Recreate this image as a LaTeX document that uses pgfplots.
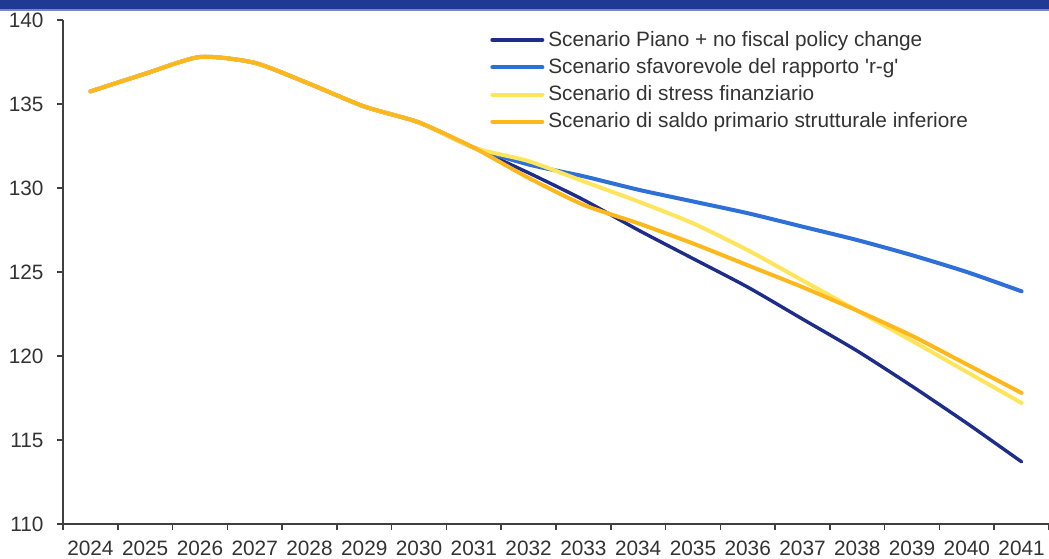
\documentclass[border=0pt]{standalone}
\usepackage{pgfplots}
\pgfplotsset{compat=1.18}
\usepackage{fontspec}
\setmainfont{Liberation Sans}
\definecolor{piano}{HTML}{1F2D8A}
\definecolor{rg}{HTML}{2F6FD8}
\definecolor{stress}{HTML}{FFE55C}
\definecolor{saldo}{HTML}{FFB81C}
\definecolor{band}{HTML}{1F3A93}
\begin{document}
\begin{tikzpicture}
\useasboundingbox (0pt,0pt) rectangle (524.5pt,279pt);
\fill[band] (0pt,274pt) rectangle (524.5pt,279pt);
\draw[band!60, line width=0.6pt] (0pt,274pt) -- (524.5pt,274pt);
\begin{axis}[
    at={(31.5pt,17pt)}, anchor=south west,
    width=493pt, height=252pt, scale only axis,
    xmin=-0.5, xmax=17.5, ymin=110, ymax=140,
    axis lines*=left,
    axis line style={line width=0.8pt, black!75},
    xtick={0,...,17},
    xticklabels={2024,2025,2026,2027,2028,2029,2030,2031,2032,2033,2034,2035,2036,2037,2038,2039,2040,2041},
    major x tick style={draw=none},
    minor xtick={-0.5,0.5,...,17.5},
    ytick={110,115,...,140},
    tick align=outside,
    major tick length=3pt, minor tick length=3pt,
    every tick/.style={black!75, line width=0.8pt},
    tick label style={font=\fontsize{10.4}{12}\selectfont, text=black!80},
    xticklabel style={yshift=-2.2pt},
    yticklabel style={xshift=-3.2pt},
    /pgf/number format/assume math mode=true,
    legend style={at={(0.433,0.987)}, anchor=north west, draw=none, fill=none,
        font=\fontsize{10.4}{12}\selectfont, text=black!80, row sep=0.6pt,
        inner sep=0pt, cells={anchor=west}},
    legend image code/.code={\draw[#1, line width=2pt] (0pt,0pt) -- (25pt,0pt);},
    every axis plot/.append style={smooth, tension=0.4, line cap=round},
  ]
  % Piano + no fiscal policy change
  \addplot[piano, line width=1.7pt] coordinates {
    (0,135.75) (1,136.8) (2,137.8) (3,137.45) (4,136.2) (5,134.85) (6,133.9) (7,132.4)
    (8,130.9) (9,129.3) (10,127.5) (11,125.8) (12,124.1) (13,122.2) (14,120.3)
    (15,118.2) (16,116.0) (17,113.7)
  };
  % sfavorevole r-g
  \addplot[rg, line width=2pt] coordinates {
    (0,135.75) (1,136.8) (2,137.8) (3,137.45) (4,136.2) (5,134.85) (6,133.9) (7,132.4)
    (8,131.4) (9,130.7) (10,129.9) (11,129.2) (12,128.5) (13,127.7) (14,126.9)
    (15,126.0) (16,125.0) (17,123.85)
  };
  % stress finanziario
  \addplot[stress, line width=2pt] coordinates {
    (0,135.75) (1,136.8) (2,137.8) (3,137.45) (4,136.2) (5,134.85) (6,133.9) (7,132.4)
    (8,131.6) (9,130.4) (10,129.2) (11,127.9) (12,126.3) (13,124.5) (14,122.7)
    (15,120.9) (16,119.05) (17,117.2)
  };
  % saldo primario strutturale inferiore
  \addplot[saldo, line width=2pt] coordinates {
    (0,135.75) (1,136.8) (2,137.8) (3,137.45) (4,136.2) (5,134.85) (6,133.9) (7,132.4)
    (8,130.6) (9,129.0) (10,127.9) (11,126.7) (12,125.4) (13,124.1) (14,122.7)
    (15,121.2) (16,119.5) (17,117.8)
  };
  \legend{Scenario Piano + no fiscal policy change,
          Scenario sfavorevole del rapporto \textquotesingle r-g\textquotesingle,
          Scenario di stress finanziario,
          Scenario di saldo primario strutturale inferiore}
\end{axis}
\end{tikzpicture}
\end{document}
